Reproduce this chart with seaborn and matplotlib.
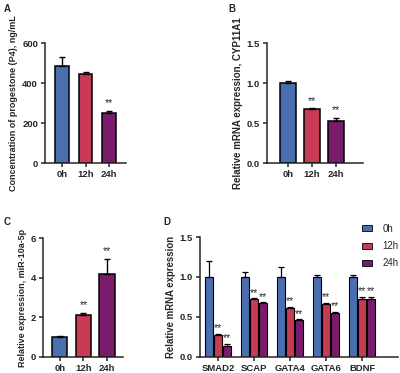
import matplotlib
matplotlib.use("Agg")
import matplotlib.pyplot as plt
import seaborn as sns
import pandas as pd
import numpy as np

sns.set_style("ticks")
plt.rcParams['font.family'] = ['Liberation Sans', 'DejaVu Sans']

times = ['0h', '12h', '24h']
colors = ['#4a6fb0', '#c93a55', '#7a1c6c']

# panel A: progesterone
p4_mean = [485, 443, 248]
p4_err = [45, 12, 13]
p4_sig = ['', '', '**']

# panel B: CYP11A1
cyp_mean = [1.0, 0.675, 0.525]
cyp_err = [0.025, 0.01, 0.04]
cyp_sig = ['', '**', '**']

# panel C: miR-10a-5p
mir_mean = [1.0, 2.1, 4.2]
mir_err = [0.05, 0.1, 0.75]
mir_sig = ['', '**', '**']

# panel D: gene panel
genes = ['SMAD2', 'SCAP', 'GATA4', 'GATA6', 'BDNF']
d_mean = {'0h': [1.0, 1.0, 1.0, 1.0, 1.0],
          '12h': [0.28, 0.72, 0.61, 0.66, 0.72],
          '24h': [0.14, 0.67, 0.46, 0.555, 0.73]}
d_err = {'0h': [0.2, 0.065, 0.13, 0.03, 0.03],
         '12h': [0.012, 0.012, 0.012, 0.015, 0.03],
         '24h': [0.02, 0.012, 0.01, 0.006, 0.02]}
d_sig = {'0h': ['', '', '', '', ''],
         '12h': ['**'] * 5,
         '24h': ['**'] * 5}

W, H = 400, 373
fig = plt.figure(figsize=(4, 3.73), dpi=100)


def ax_at(l, r, b, t):
    return fig.add_axes([l / W, 1 - b / H, (r - l) / W, (b - t) / H])


TICK_FS = 6.8
STAR_FS = 7.5


def style(ax, ylab, ylim, yticks, xlim, lab_fs):
    ax.set_ylim(*ylim)
    ax.set_yticks(yticks)
    ax.set_xlim(*xlim)
    ax.set_xlabel('')
    ax.set_ylabel(ylab, fontsize=lab_fs, fontweight='bold', labelpad=3)
    for s in ['top', 'right']:
        ax.spines[s].set_visible(False)
    for s in ['left', 'bottom']:
        ax.spines[s].set_linewidth(1.1)
    ax.tick_params(width=1.1, length=3, pad=2)
    for t in ax.get_xticklabels() + ax.get_yticklabels():
        t.set_fontsize(TICK_FS)
        t.set_fontweight('bold')


def simple(ax, mean, err, sig, width, off):
    df = pd.DataFrame({'t': times, 'v': mean})
    sns.barplot(data=df, x='t', y='v', hue='t', palette=colors, width=width, saturation=1,
                edgecolor='black', linewidth=1.1, errorbar=None, legend=False, ax=ax)
    for p, e, s in zip(ax.patches, err, sig):
        x = p.get_x() + p.get_width() / 2
        h = p.get_height()
        ax.errorbar(x, h, yerr=[[0], [e]], color='black', capsize=2.5,
                    elinewidth=1, capthick=1)
        if s:
            ax.text(x, h + e + off, s, ha='center', va='bottom', fontsize=STAR_FS)


axA = ax_at(45, 126, 163, 43)
simple(axA, p4_mean, p4_err, p4_sig, 0.6, 12)
style(axA, 'Concentration of progestone (P4), ng/mL', (0, 600), [0, 200, 400, 600],
      (-0.75, 2.75), 6.5)

axB = ax_at(267, 363, 163, 43)
simple(axB, cyp_mean, cyp_err, cyp_sig, 0.65, 0.03)
style(axB, 'Relative mRNA expression, CYP11A1', (0, 1.5), [0, 0.5, 1.0, 1.5],
      (-0.875, 3.125), 7.0)

axC = ax_at(43, 123, 357, 238)
simple(axC, mir_mean, mir_err, mir_sig, 0.64, 0.15)
style(axC, 'Relative expression, miR-10a-5p', (0, 6), [0, 2, 4, 6],
      (-0.72, 2.68), 6.5)

axD = ax_at(200, 398, 357, 237)
rows = []
for t in times:
    for g, v in zip(genes, d_mean[t]):
        rows.append({'gene': g, 'time': t, 'v': v})
dfD = pd.DataFrame(rows)
sns.barplot(data=dfD, x='gene', y='v', hue='time', palette=colors, width=0.75, gap=0.22,
            saturation=1, edgecolor='black', linewidth=0.8, errorbar=None, ax=axD)
bars = [p for p in axD.patches if p.get_height() > 0]
i = 0
for t in times:
    for e, s in zip(d_err[t], d_sig[t]):
        p = bars[i]
        i += 1
        x = p.get_x() + p.get_width() / 2
        h = p.get_height()
        axD.errorbar(x, h, yerr=[[0], [e]], color='black', capsize=2,
                     elinewidth=0.9, capthick=0.9)
        if s:
            axD.text(x, h + e + 0.01, s, ha='center', va='bottom', fontsize=STAR_FS)
style(axD, 'Relative mRNA expression', (0, 1.5), [0, 0.5, 1.0, 1.5], (-0.5, 5.0), 6.9)
leg = axD.legend(title=None, frameon=False, fontsize=7, loc='upper left',
                 bbox_to_anchor=(0.818, 1.11), borderaxespad=0, borderpad=0,
                 handlelength=1.0, handleheight=0.55,
                 labelspacing=0.75, handletextpad=1.1)
for hnd in leg.legend_handles:
    hnd.set_linewidth(0.6)

for letter, x, y in [('A', 4, 9), ('B', 228, 9), ('C', 4, 222), ('D', 163, 222)]:
    fig.text(x / W, 1 - y / H, letter, fontsize=7, fontweight='bold', va='center', ha='left')

fig.savefig('out.png', dpi=100)
